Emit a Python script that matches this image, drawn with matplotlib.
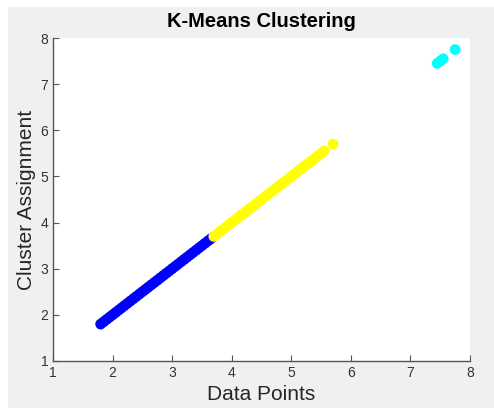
#### Workspace setup ####
import matplotlib
matplotlib.use('Agg')
import matplotlib.pyplot as plt
from matplotlib.patches import Rectangle

plt.rcParams['font.family'] = ['Liberation Sans', 'DejaVu Sans']

#### Data (points lie on the diagonal) ####
# cluster 1 (blue)
blue_pts = [1.80, 1.85, 1.90, 1.95, 2.00, 2.05, 2.10, 2.15, 2.20, 2.25,
            2.30, 2.35, 2.40, 2.45, 2.50, 2.55, 2.60, 2.65, 2.70, 2.75,
            2.80, 2.85, 2.90, 2.95, 3.00, 3.05, 3.10, 3.15, 3.20, 3.25,
            3.30, 3.35, 3.40, 3.45, 3.50, 3.55, 3.60, 3.65]
# cluster 2 (yellow)
yellow_pts = [3.70, 3.75, 3.80, 3.85, 3.90, 3.95, 4.00, 4.05, 4.10, 4.15,
              4.20, 4.25, 4.30, 4.35, 4.40, 4.45, 4.50, 4.55, 4.60, 4.65,
              4.70, 4.75, 4.80, 4.85, 4.90, 4.95, 5.00, 5.05, 5.10, 5.15,
              5.20, 5.25, 5.30, 5.35, 5.40, 5.45, 5.50, 5.55, 5.70]
# cluster 3 (cyan)
cyan_pts = [7.45, 7.50, 7.55, 7.75]

ticks = [1, 2, 3, 4, 5, 6, 7, 8]

#### Plot ####
fig = plt.figure(figsize=(4.94, 4.08), dpi=100, facecolor='white')
# grey MATLAB-like figure background, leaving a thin white border top/left
fig.patches.append(Rectangle((8 / 494, 0), 1, (408 - 7) / 408,
                             transform=fig.transFigure, facecolor='#f0f0f0',
                             edgecolor='none', zorder=-10))

ax = fig.add_axes([53 / 494, 1 - 361 / 408, (470 - 53) / 494, (361 - 38) / 408])
ax.set_facecolor('white')

ax.scatter(blue_pts, blue_pts, s=60, color='#0000ff', edgecolors='none')
ax.scatter(yellow_pts, yellow_pts, s=60, color='#ffff00', edgecolors='none')
ax.scatter(cyan_pts, cyan_pts, s=60, color='#00ffff', edgecolors='none')

ax.set_xlim(1, 8)
ax.set_ylim(1, 8)
ax.set_xticks(ticks)
ax.set_yticks(ticks)

for side in ['top', 'right']:
    ax.spines[side].set_visible(False)
for side in ['left', 'bottom']:
    ax.spines[side].set_color('#555555')
    ax.spines[side].set_linewidth(1.0)
ax.tick_params(direction='in', length=4, width=0.8, colors='#555555',
               labelcolor='#333333', labelsize=10)

ax.set_title('K-Means Clustering', fontsize=14.5, fontweight='bold', pad=8)
ax.set_xlabel('Data Points', fontsize=15, color='#262626', labelpad=4)
ax.set_ylabel('Cluster Assignment', fontsize=15, color='#262626', labelpad=3)

fig.savefig('out.png', dpi=100, facecolor=fig.get_facecolor())
